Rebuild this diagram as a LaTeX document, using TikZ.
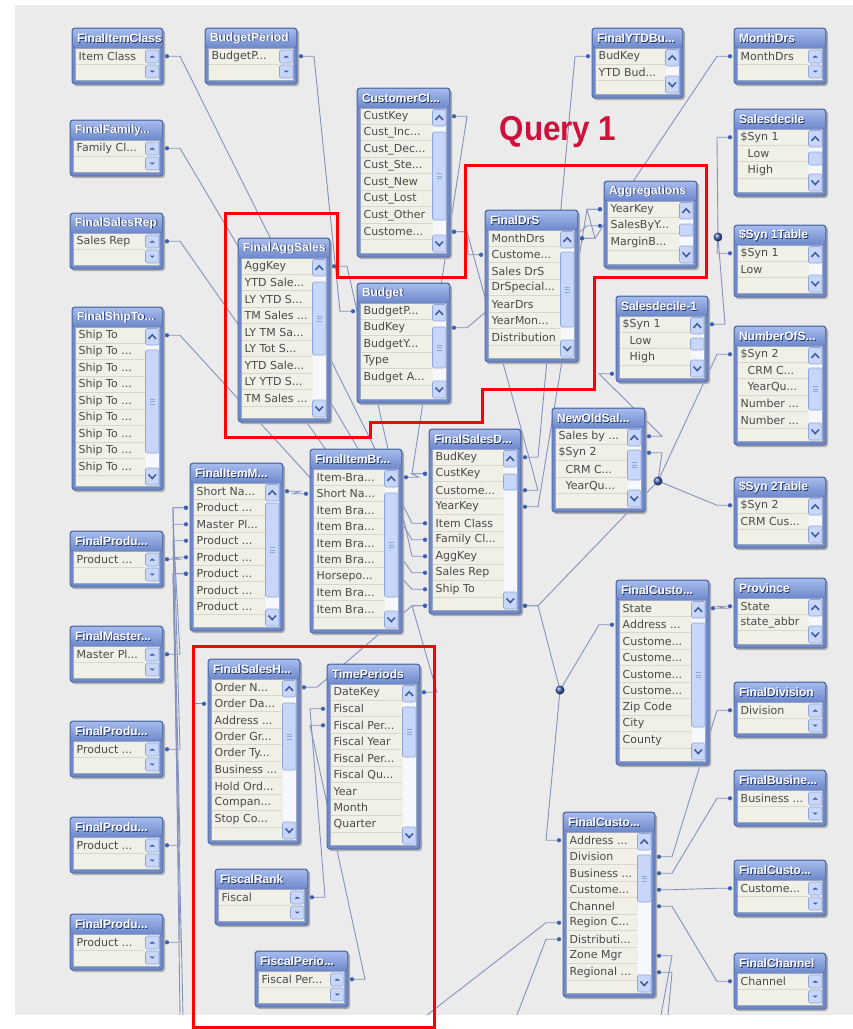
\documentclass[tikz,border=0pt]{standalone}
\usepackage{fontspec}
\setmainfont{DejaVu Sans}
\newfontfamily\lsans{Liberation Sans}
\usetikzlibrary{calc}
\pgfdeclarelayer{back}
\pgfdeclarelayer{lines}
\pgfsetlayers{back,lines,main}
\definecolor{bgc}{HTML}{EBEBEB}
\definecolor{shadc}{HTML}{ABABAB}
\definecolor{framec}{HTML}{7089C8}
\definecolor{framedk}{HTML}{4D67A6}
\definecolor{ttop}{HTML}{A5BAEC}
\definecolor{tbot}{HTML}{6D88CA}
\definecolor{bodyc}{HTML}{F1F0E6}
\definecolor{bodyln}{HTML}{9BA6C4}
\definecolor{sepc}{HTML}{D9D7CC}
\definecolor{rowc}{HTML}{4A4A4A}
\definecolor{tshad}{HTML}{1F2F66}
\definecolor{btnc}{HTML}{C8D6FA}
\definecolor{btnbd}{HTML}{8FA6DC}
\definecolor{chevc}{HTML}{3B5899}
\definecolor{trackc}{HTML}{F7F8FD}
\definecolor{connc}{HTML}{8593BC}
\definecolor{dotc}{HTML}{3D60B0}
\definecolor{qred}{HTML}{D0103A}
\definecolor{redc}{HTML}{FF0000}
\newcommand\el{...}
\newcommand\ind{\hspace*{7pt}}
\newcommand\tfont{\lsans\bfseries\fontsize{12}{12}\selectfont}
\newcommand\rfont{\fontsize{11}{11}\selectfont}
\tikzset{
  conn/.style={draw=connc,line width=0.9pt},
  rowtxt/.style={anchor=west,inner sep=0pt,font=\rfont,text=rowc},
  ttl/.style={anchor=west,inner sep=0pt,font=\tfont},
  btn/.style={draw=btnbd,fill=btnc,rounded corners=1.5pt,line width=0.6pt},
  chev/.style={draw=chevc,line width=1.5pt},
  grip/.style={draw=btnbd,line width=0.6pt},
  jball/.style={ball color=dotc}
}
\newcommand\scrl[5]{%
\ifnum#4=0\relax
  \draw[btn] ({#1-17.5},{#2+22}) rectangle ({#1-4},{#2+35});
  \draw[btn] ({#1-17.5},{#2+37}) rectangle ({#1-4},{#2+50});
  \fill[chevc] ({#1-13.5},{#2+29.5}) -- ({#1-8},{#2+29.5}) -- ({#1-10.75},{#2+27.5}) -- cycle;
  \fill[chevc] ({#1-13.5},{#2+42.5}) -- ({#1-8},{#2+42.5}) -- ({#1-10.75},{#2+44.5}) -- cycle;
\else
  \fill[trackc] ({#1-17.5},{#2+38}) rectangle ({#1-4},{#3-22});
  \draw[btn] ({#1-17.5},{#2+21.5}) rectangle ({#1-4},{#2+38});
  \draw[chev] ({#1-14.5},{#2+31.8}) -- ({#1-10.75},{#2+27.8}) -- ({#1-7},{#2+31.8});
  \draw[btn] ({#1-17.5},{#3-22}) rectangle ({#1-4},{#3-5});
  \draw[chev] ({#1-14.5},{#3-15.5}) -- ({#1-10.75},{#3-11.5}) -- ({#1-7},{#3-15.5});
  \ifnum#4>1\relax
    \draw[btn] ({#1-17.5},#4) rectangle ({#1-4},#5);
    \ifnum\numexpr#5-#4\relax>25\relax
      \draw[grip] ({#1-13.5},{(#4+#5)/2-2.5}) -- ({#1-8},{(#4+#5)/2-2.5})
                  ({#1-13.5},{(#4+#5)/2}) -- ({#1-8},{(#4+#5)/2})
                  ({#1-13.5},{(#4+#5)/2+2.5}) -- ({#1-8},{(#4+#5)/2+2.5});
    \fi
  \fi
\fi}
\newcommand\tbl[9]{%
\fill[shadc,rounded corners=3pt] ({#2+1.5},{#3+2}) rectangle ({#4+2},{#5+2});
\fill[framec,rounded corners=3pt] (#2,#3) rectangle (#4,#5);
\fill[top color=ttop,bottom color=tbot,rounded corners=2.5pt] ({#2+0.8},{#3+0.8}) rectangle ({#4-0.8},{#3+20});
\draw[framedk,rounded corners=3pt,line width=0.9pt] (#2,#3) rectangle (#4,#5);
\fill[bodyc] ({#2+3.5},{#3+20}) rectangle ({#4-3.5},{#5-3.5});
\begin{scope}
\clip ({#2+3.5},{#3+20}) rectangle ({#4-3.5},{#5-3.5});
\foreach \rw [count=\ii] in {#7} {
  \pgfmathsetmacro\yc{#3+20+(\ii-0.5)*16.5}
  \node[rowtxt] at ({#2+6.5},\yc) {\rw};
  \draw[sepc,line width=1pt] ({#2+3.5},{\yc+7.75}) -- ({#4-18},{\yc+7.75});
  \coordinate (#1-L\ii) at ({#2-4},\yc);
  \coordinate (#1-L\ii-s) at ({#2-17},\yc);
  \coordinate (#1-R\ii) at ({#4+4},\yc);
  \coordinate (#1-R\ii-s) at ({#4+17},\yc);
}
\end{scope}
\draw[bodyln,line width=0.7pt] ({#2+3.5},{#3+20}) rectangle ({#4-3.5},{#5-3.5});
\scrl{#4}{#3}{#5}{#8}{#9}
\node[ttl,text=tshad] at ({#2+5.6},{#3+10.8}) {#6};
\node[ttl,text=white] at ({#2+4.8},{#3+10}) {#6};
}
\newcommand\cn[2]{%
 \begin{pgfonlayer}{lines}\draw[conn] (#1) -- (#1-s) -- (#2-s) -- (#2);\end{pgfonlayer}%
 \fill[dotc] (#1) circle (2.1pt) (#2) circle (2.1pt);}
\newcommand\cnp[2]{%
 \begin{pgfonlayer}{lines}\draw[conn] (#1) -- (#1-s) -- (#2);\end{pgfonlayer}%
 \fill[dotc] (#1) circle (2.1pt);}
\begin{document}
\begin{tikzpicture}[x=1pt,y=-1pt]
\useasboundingbox (0,0) rectangle (853,1029);
\begin{pgfonlayer}{back}
\fill[white] (0,0) rectangle (853,1029);
\fill[bgc] (15,5) rectangle (853,1015);
\end{pgfonlayer}
% ---------- tables ----------
\tbl{fic}{72}{28}{163}{84}{FinalItemClass}{Item Class,{}}{0}{0}
\tbl{bp}{205}{28}{297}{84}{BudgetPeriod}{BudgetP\el,{}}{0}{0}
\tbl{ffam}{70}{120}{163}{176}{FinalFamily\el}{Family Cl\el,{}}{0}{0}
\tbl{fsr}{70}{213}{163}{269}{FinalSalesRep}{Sales Rep,{}}{0}{0}
\tbl{fst}{72}{307}{163}{490}{FinalShipTo\el}{Ship To,Ship To \el,Ship To \el,Ship To \el,Ship To \el,Ship To \el,Ship To \el,Ship To \el,Ship To \el,{}}{350}{453}
\tbl{ccl}{357}{88}{450}{257}{CustomerCl\el}{CustKey,Cust\_Inc\el,Cust\_Dec\el,Cust\_Ste\el,Cust\_New,Cust\_Lost,Cust\_Other,Custome\el,{}}{132}{220}
\tbl{fas}{238}{238}{330}{422}{FinalAggSales}{AggKey,YTD Sale\el,LY YTD S\el,TM Sales \el,LY TM Sa\el,LY Tot S\el,YTD Sale\el,LY YTD S\el,TM Sales \el,{}}{282}{355}
\tbl{bud}{357}{283}{450}{403}{Budget}{BudgetP\el,BudKey,BudgetY\el,Type,Budget A\el,{}}{327}{368}
\tbl{fdrs}{485}{210}{578}{362}{FinalDrS}{MonthDrs,Custome\el,Sales DrS,DrSpecial\el,YearDrs,YearMon\el,Distribution,{}}{252}{327}
\tbl{fytd}{592}{28}{683}{98}{FinalYTDBu\el}{BudKey,YTD Bud\el,{}}{1}{1}
\tbl{mdrs}{734}{28}{826}{84}{MonthDrs}{MonthDrs,{}}{0}{0}
\tbl{sdec}{734}{109}{826}{196}{Salesdecile}{\$Syn 1,\ind Low,\ind High,{}}{152}{165}
\tbl{agg}{604}{181}{697}{268}{Aggregations}{YearKey,SalesByY\el,MarginB\el,{}}{224}{236}
\tbl{s1t}{734}{225}{826}{297}{\$Syn 1Table}{\$Syn 1,Low,{}}{1}{1}
\tbl{sd1}{616}{296}{708}{382}{Salesdecile-1}{\$Syn 1,\ind Low,\ind High,{}}{338}{350}
\tbl{nos}{734}{326}{826}{445}{NumberOfS\el}{\$Syn 2,\ind CRM C\el,\ind YearQu\el,Number \el,Number \el,{}}{368}{410}
\tbl{nol}{552}{408}{645}{512}{NewOldSal\el}{Sales by \el,\$Syn 2,\ind CRM C\el,\ind YearQu\el,{}}{450}{480}
\tbl{s2t}{734}{477}{826}{548}{\$Syn 2Table}{\$Syn 2,CRM Cus\el,{}}{1}{1}
\tbl{fim}{190}{463}{283}{631}{FinalItemM\el}{Short Na\el,Product \el,Master Pl\el,Product \el,Product \el,Product \el,Product \el,Product \el,{}}{503}{597}
\tbl{fib}{310}{449}{402}{633}{FinalItemBr\el}{Item-Bra\el,Short Na\el,Item Bra\el,Item Bra\el,Item Bra\el,Item Bra\el,Horsepo\el,Item Bra\el,Item Bra\el,{}}{493}{597}
\tbl{fsd}{429}{429}{521}{614}{FinalSalesD\el}{BudKey,CustKey,Custome\el,YearKey,Item Class,Family Cl\el,AggKey,Sales Rep,Ship To,{}}{474}{490}
\tbl{fp1}{70}{531}{163}{587}{FinalProdu\el}{Product \el,{}}{0}{0}
\tbl{fm}{70}{626}{163}{682}{FinalMaster\el}{Master Pl\el,{}}{0}{0}
\tbl{fp2}{70}{721}{163}{777}{FinalProdu\el}{Product \el,{}}{0}{0}
\tbl{fp3}{70}{817}{163}{873}{FinalProdu\el}{Product \el,{}}{0}{0}
\tbl{fp4}{70}{914}{163}{970}{FinalProdu\el}{Product \el,{}}{0}{0}
\tbl{fsh}{208}{659}{300}{844}{FinalSalesH\el}{Order N\el,Order Da\el,Address \el,Order Gr\el,Order Ty\el,Business \el,Hold Ord\el,Compan\el,Stop Co\el,{}}{703}{770}
\tbl{tp}{327}{664}{420}{849}{TimePeriods}{DateKey,Fiscal,Fiscal Per\el,Fiscal Year,Fiscal Per\el,Fiscal Qu\el,Year,Month,Quarter,{}}{707}{757}
\tbl{fr}{215}{869}{308}{925}{FiscalRank}{Fiscal,{}}{0}{0}
\tbl{fpe}{255}{951}{348}{1007}{FiscalPerio\el}{Fiscal Per\el,{}}{0}{0}
\tbl{fc1}{616}{580}{709}{765}{FinalCusto\el}{State,Address \el,Custome\el,Custome\el,Custome\el,Custome\el,Zip Code,City,County,{}}{623}{727}
\tbl{prov}{734}{578}{826}{648}{Province}{State,state\_abbr,{}}{1}{1}
\tbl{fdiv}{734}{682}{826}{737}{FinalDivision}{Division,{}}{0}{0}
\tbl{fbus}{734}{770}{826}{826}{FinalBusine\el}{Business \el,{}}{0}{0}
\tbl{fcs}{734}{860}{826}{916}{FinalCusto\el}{Custome\el,{}}{0}{0}
\tbl{fch}{734}{953}{826}{1009}{FinalChannel}{Channel,{}}{0}{0}
\tbl{fc2}{563}{812}{655}{997}{FinalCusto\el}{Address \el,Division,Business \el,Custome\el,Channel,Region C\el,Distributi\el,Zone Mgr,Regional \el,{}}{855}{902}
% ---------- junctions and free ends ----------
\coordinate (J1) at (718,237);
\coordinate (J2) at (658,481);
\coordinate (J3) at (560,690);
\coordinate (E1) at (427,1015);
\coordinate (E2) at (517,1015);
\coordinate (E3) at (661,1015);
\coordinate (E4) at (668,1015);
\coordinate (E5) at (180,1015);
\coordinate (E6) at (183,1015);
\coordinate (E7a) at (193,703.75);
\coordinate (E7) at (193,1015);
% ---------- connectors ----------
\cn{fic-R1}{fsd-L5}
\cn{ffam-R1}{fsd-L6}
\cn{fsr-R1}{fsd-L8}
\cn{fst-R1}{fsd-L9}
\cn{fas-R1}{fsd-L7}
\cn{bp-R1}{bud-L1}
\cn{ccl-R1}{fsd-L2}
\cn{fib-R1}{fsd-L2}
\cn{ccl-R8}{fdrs-L2}
\cn{ccl-R8}{fsd-R3}
\cn{bud-R2}{agg-L2}
\cn{mdrs-L1}{fdrs-R1}
\cn{agg-L1}{fdrs-R1}
\cn{agg-L1}{fsd-R4}
\cn{fytd-L1}{fsd-R1}
\cn{fim-R1}{fib-L2}
\cn{fp1-R1}{fim-L5}
\cn{fm-R1}{fim-L3}
\cn{fp2-R1}{fim-L2}
\cn{fp3-R1}{fim-L4}
\cn{fp4-R1}{fim-L6}
\cnp{fim-L2}{E5}
\cnp{fim-L6}{E6}
\begin{pgfonlayer}{lines}\draw[conn] (fsh-L2) -- (E7a) -- (E7);\end{pgfonlayer}
\fill[dotc] (fsh-L2) circle (2.1pt);
\cn{fsd-L10}{fsh-R1}
\cn{fsd-L10}{tp-R1}
\cn{tp-L2}{fr-R1}
\cn{tp-L3}{fpe-R1}
\cnp{sdec-L1}{J1}
\cnp{s1t-L1}{J1}
\cnp{sd1-R1}{J1}
\cn{sd1-L4}{nol-R1}
\cnp{nol-R2}{J2}
\cnp{nos-L1}{J2}
\cnp{s2t-L1}{J2}
\cnp{fsd-R10}{J2}
\cnp{fsd-R10}{J3}
\cnp{fc1-L2}{J3}
\cnp{fc2-L1}{J3}
\cn{fc1-R1}{prov-L1}
\cn{fc2-R2}{fdiv-L1}
\cn{fc2-R3}{fbus-L1}
\cn{fc2-R4}{fcs-L1}
\cn{fc2-R5}{fch-L1}
\cnp{fc2-R8}{E3}
\cnp{fc2-R9}{E4}
\cnp{fc2-L6}{E1}
\cnp{fc2-L7}{E2}
\shade[jball] (J1) circle (4.5pt);
\shade[jball] (J2) circle (4.5pt);
\shade[jball] (J3) circle (4.5pt);
% ---------- query outlines ----------
\draw[redc,line width=3pt] (225,213) -- (337,213) -- (337,277) -- (465,277) -- (465,165) -- (706,165) -- (706,277) -- (594,277) -- (594,389) -- (482,389) -- (482,422) -- (370,422) -- (370,437) -- (225,437) -- cycle;
\draw[redc,line width=3pt] (193,646) rectangle (434,1027);
\node[text=qred,font=\lsans\bfseries\fontsize{32}{32}\selectfont,inner sep=0pt] (q1) at (558,132) {\scalebox{0.98}[1.08]{Query 1}};
\end{tikzpicture}
\end{document}
